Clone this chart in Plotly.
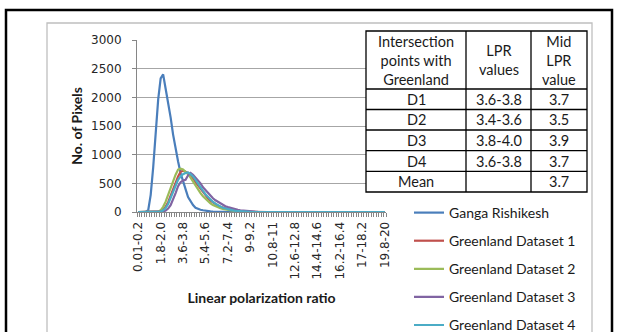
import plotly.graph_objects as go

# ---------------- data ----------------
first_label = "0.01-0.2"
categories = [first_label] + [f"{round(0.2 * i, 1):g}-{round(0.2 * (i + 1), 1):g}" for i in range(1, 100)]

tick_positions = [0, 9, 18, 27, 36, 45, 54, 63, 72, 81, 90, 99]
tick_labels = ["0.01-0.2", "1.8-2.0", "3.6-3.8", "5.4-5.6", "7.2-7.4", "9-9.2",
               "10.8-11", "12.6-12.8", "14.4-14.6", "16.2-16.4", "17-18.2", "19.8-20"]

ganga_rishikesh = [0, 0, 0, 0, 30, 300, 780, 1350, 1960, 2330,
                   2400, 2150, 1930, 1650, 1350, 1100, 880, 680, 520, 400,
                   260, 190, 120, 75, 55, 40, 30, 20, 15, 10,
                   6, 4, 3, 2, 1] + [0] * 65

greenland_1 = [0, 0, 0, 0, 0, 0, 0, 0, 0, 10,
               40, 90, 170, 280, 400, 520, 620, 700, 720, 700,
               680, 640, 590, 520, 460, 400, 340, 290, 240, 200,
               165, 135, 110, 90, 75, 60, 48, 38, 30, 22,
               16, 12, 8, 6, 4, 3, 2] + [0] * 53

greenland_2 = [0, 0, 0, 0, 0, 0, 0, 0, 5, 30,
               90, 180, 300, 420, 540, 650, 740, 755, 740, 700,
               660, 600, 530, 460, 400, 330, 275, 230, 185, 150,
               120, 100, 80, 65, 55, 45, 35, 28, 20, 15,
               12, 8, 6, 4, 3, 2] + [0] * 54

greenland_3 = [0, 0, 0, 0, 0, 0, 0, 0, 0, 0,
               5, 25, 60, 120, 210, 330, 450, 520, 550, 560,
               640, 680, 650, 600, 560, 500, 430, 380, 330, 280,
               240, 205, 175, 150, 125, 100, 85, 70, 58, 48,
               38, 30, 24, 18, 14, 10, 7, 5, 3, 2,
               1] + [0] * 49

greenland_4 = [0, 0, 0, 0, 0, 0, 0, 0, 0, 5,
               30, 70, 140, 240, 360, 470, 560, 620, 660, 680,
               690, 660, 620, 560, 490, 430, 370, 310, 260, 215,
               175, 145, 115, 95, 75, 60, 48, 38, 28, 20,
               15, 10, 7, 5, 3, 2] + [0] * 54

series_names = ["Ganga Rishikesh", "Greenland Dataset 1", "Greenland Dataset 2",
                "Greenland Dataset 3", "Greenland Dataset 4"]
series_values = [ganga_rishikesh, greenland_1, greenland_2, greenland_3, greenland_4]
series_colors = ["#4A7EBB", "#C0504D", "#9BBB59", "#8064A2", "#4BACC6"]

table_header = ["Intersection<br>points with<br>Greenland", "LPR<br>values", "Mid<br>LPR<br>value"]
table_rows = [["D1", "3.6-3.8", "3.7"],
              ["D2", "3.4-3.6", "3.5"],
              ["D3", "3.8-4.0", "3.9"],
              ["D4", "3.6-3.8", "3.7"],
              ["Mean", "", "3.7"]]

# ---------------- layout geometry (pixels) ----------------
W, H = 618, 332
PL, PR, PT, PB = 137, 386, 40, 212


def px(x):
    return (x - PL) / (PR - PL)


def py(y):
    return (PB - y) / (PB - PT)


fig = go.Figure()
legend_layouts = {}
for k, (name, vals, col) in enumerate(zip(series_names, series_values, series_colors)):
    lg = "legend" if k == 0 else f"legend{k + 1}"
    fig.add_trace(go.Scatter(x=categories, y=vals, mode="lines", name=name,
                             legend=lg, line=dict(color=col, width=2.2)))
    legend_layouts[lg] = dict(x=px(409), y=py(213 + 28.1 * k), xanchor="left", yanchor="middle",
                              font=dict(family="Lato", size=14, color="#1a1a1a"),
                              bgcolor="rgba(0,0,0,0)", borderwidth=0)

tickvals = categories
ticktext = [""] * len(categories)
for p, t in zip(tick_positions, tick_labels):
    ticktext[p] = t

shapes = []
# outer black frame and grey chart-area border
shapes.append(dict(type="rect", xref="paper", yref="paper", x0=px(6), x1=px(612), y0=py(10), y1=py(345),
                   line=dict(color="black", width=2.5), fillcolor="rgba(0,0,0,0)", layer="below"))
shapes.append(dict(type="rect", xref="paper", yref="paper", x0=px(47), x1=px(592), y0=py(23), y1=py(345),
                   line=dict(color="#BFBFBF", width=1.3), fillcolor="rgba(0,0,0,0)", layer="below"))

# table
col_x = [366, 466, 531, 587]
row_y = [31, 89, 109.5, 130, 150.7, 171.3, 192]
shapes.append(dict(type="rect", xref="paper", yref="paper", x0=px(col_x[0]), x1=px(col_x[-1]),
                   y0=py(row_y[0]), y1=py(row_y[-1]), fillcolor="white",
                   line=dict(color="black", width=1.3), layer="above"))
for cx in col_x[1:-1]:
    shapes.append(dict(type="line", xref="paper", yref="paper", x0=px(cx), x1=px(cx),
                       y0=py(row_y[0]), y1=py(row_y[-1]), line=dict(color="black", width=1.3), layer="above"))
for ry in row_y[1:-1]:
    shapes.append(dict(type="line", xref="paper", yref="paper", x0=px(col_x[0]), x1=px(col_x[-1]),
                       y0=py(ry), y1=py(ry), line=dict(color="black", width=1.3), layer="above"))

annotations = []
tfont = dict(family="Lato", size=14.5, color="#1a1a1a")
for j, txt in enumerate(table_header):
    annotations.append(dict(xref="paper", yref="paper", x=px((col_x[j] + col_x[j + 1]) / 2),
                            y=py((row_y[0] + row_y[1]) / 2), text=txt, showarrow=False,
                            xanchor="center", yanchor="middle", font=tfont))
for i, row in enumerate(table_rows):
    for j, txt in enumerate(row):
        if txt:
            annotations.append(dict(xref="paper", yref="paper", x=px((col_x[j] + col_x[j + 1]) / 2),
                                    y=py((row_y[i + 1] + row_y[i + 2]) / 2), text=txt, showarrow=False,
                                    xanchor="center", yanchor="middle", font=tfont))

fig.update_layout(
    width=W, height=H,
    margin=dict(l=PL, r=W - PR, t=PT, b=H - PB, autoexpand=False),
    paper_bgcolor="white", plot_bgcolor="white",
    showlegend=True,
    shapes=shapes,
    annotations=annotations,
    xaxis=dict(type="category", range=[-0.5, 99.5], tickmode="array", tickvals=tickvals,
               ticktext=ticktext, tickangle=-90, tickson="boundaries",
               ticks="outside", ticklen=4, tickcolor="#868686", tickwidth=1,
               showline=True, linecolor="#868686", linewidth=1, showgrid=False,
               ticklabelstandoff=4,
               tickfont=dict(family="DejaVu Sans", size=12, color="#262626"),
               title=dict(text="<b>Linear polarization ratio</b>", standoff=14,
                          font=dict(family="Lato", size=14, color="#1a1a1a"))),
    yaxis=dict(range=[0, 3000], dtick=500, tickmode="linear", showgrid=True, gridcolor="#A6A6A6",
               gridwidth=1, zeroline=False, showline=True, linecolor="#868686", linewidth=1,
               ticks="outside", ticklen=4, tickcolor="#868686",
               ticklabelstandoff=8,
               tickfont=dict(family="DejaVu Sans", size=12, color="#262626"),
               title=dict(text="<b>No. of Pixels</b>", standoff=5,
                          font=dict(family="Lato", size=14, color="#1a1a1a"))),
)
fig.update_layout(**legend_layouts)

fig.write_html("out.html")
